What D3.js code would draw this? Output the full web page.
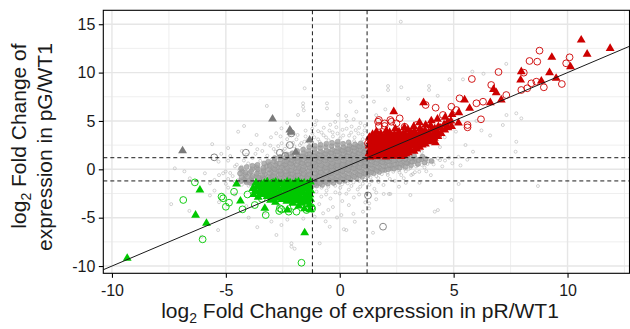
<!DOCTYPE html>
<html><head><meta charset="utf-8">
<script src="https://cdn.jsdelivr.net/npm/d3@7"></script>
<style>
body{margin:0;background:#fff}
svg{display:block}
text{font-family:"Liberation Sans",Arial,Helvetica,sans-serif;fill:#1a1a1a}
</style>
</head><body>
<svg id="chart" width="630" height="329"></svg>
<script>
// Axis ticks and significance cutoffs (log2 fold change)
const xTicks = [-10, -5, 0, 5, 10];
const yTicks = [-10, -5, 0, 5, 10, 15];
const xMinor = [-7.5, -2.5, 2.5, 7.5, 12.5];
const yMinor = [-7.5, -2.5, 2.5, 7.5, 12.5];
const cutoff = 1.2;
const fitSlope = 1, fitIntercept = 0;

// Genes not significant in both comparisons: sparse outer scatter
const grayHalo = [
[-4.52,0.48],[-4.21,0.91],[-3.83,1.18],[-3.49,0.87],[-3.18,1.41],[-2.98,1.02],[-2.81,1.83],[-2.62,1.29],[-2.41,2.12],[-2.18,1.61],[-1.99,2.38],[-1.88,1.92],[-1.69,2.71],[-1.58,2.19],[-1.41,3.02],[-1.3,2.48],[-1.12,3.31],[-1.02,2.21],[-0.88,2.82],[-0.71,3.52],[-0.61,2.49],[-0.49,3.01],[-0.31,3.82],[-0.18,2.62],[0.02,3.21],[0.12,4.08],[0.19,2.71],[0.41,3.49],[0.52,4.42],[0.63,2.91],[0.82,3.71],[0.91,4.79],[1.01,3.12],[1.09,4.02],[-1.21,4.19],[-0.42,4.61],[0.31,5.02],[-2.31,3.12],[-3.62,2.08],[-4.81,1.38],[-5.32,0.79],[-5.01,-0.22],
[-3.05,2.45],[-2.55,2.7],[-1.85,3.55],[-0.95,3.95],[-0.15,4.35],[0.7,4.05],[-1.55,2.85],[-0.35,2.3],[0.45,2.6],[-2.9,0.9],[-3.9,0.4],[-4.4,-0.1],[-4.7,-0.7],[-4.45,-1.1],
[-4.1,1.5],[-3.7,1.6],[-3.4,1.9],[-3.3,2.6],[-2.9,2.1],[-2.7,2.4],[-2.5,1.9],[-2.3,2.5],[-2.05,2.75],[-2.2,3.5],[-1.9,3.1],[-1.75,2.5],[-1.5,3.4],[-1.35,2.8],[-1.2,3.7],[-0.95,3.1],[-0.8,3.8],[-0.6,3.3],[-0.45,4.0],[-0.3,3.4],[-0.1,3.7],[0.15,3.5],[0.3,4.2],[0.5,3.8],[0.65,3.3],[0.85,4.3],[1.0,3.6],[1.1,4.5],[-0.2,4.9],[-0.7,4.3],[-1.5,4.0],[-2.6,3.4],[-3.9,2.6],[-4.3,1.9],[-5.2,1.6],[-4.6,0.3],[-4.9,0.9],
[-0.8,-1.9],[-0.5,-1.8],[-0.2,-1.7],[0.1,-1.55],[0.35,-1.45],[0.6,-1.35],[0.85,-1.2],[1.1,-1.05],[1.35,-0.85],[1.6,-0.7],[1.85,-0.5],[2.1,-0.35],[2.35,-0.25],[2.6,-0.1],[2.85,0.05],[3.1,0.15],[3.35,0.3],[3.6,0.45],[3.85,0.55],[4.1,0.8],[4.4,0.95],[0.4,-2.1],[0.9,-1.8],[1.3,-1.6],[1.7,-1.3],[2.2,-1.0],[2.7,-0.6],[3.3,-0.3],[3.8,-0.2],[4.5,0.3],[-0.6,-2.6],[0.0,-2.5],[1.6,-2.4],[2.9,-1.4],[4.0,-0.6],[5.3,0.4],[5.6,1.0],[4.8,1.2],
[-4.6,-1.3],[-4.9,-1.0],[-5.3,-0.6],[-5.5,-1.1],[-4.3,-1.6],[-4.0,-1.7],[-5.0,-1.5],
[-1.02,-2.31],[-0.81,-2.82],[-0.58,-2.19],[-0.41,-3.02],[-0.19,-2.38],[0.02,-1.91],[0.11,-3.28],[0.29,-2.52],[0.51,-1.72],[0.62,-2.91],[0.79,-2.08],[1.01,-1.49],[1.12,-3.42],[1.19,-2.48],[1.41,-1.21],[1.52,-2.02],[1.69,-0.91],[1.92,-1.62],[2.11,-0.58],[2.22,-2.55],[2.41,-1.19],[2.62,-0.31],[2.81,-0.92],[3.02,0.02],[3.1,-2.66],[3.21,-0.49],[3.49,-0.25],[3.41,0.42],[3.72,0.19],[3.91,0.82],[4.12,0.51],[4.31,1.12],[4.62,0.91],[4.94,0.62],[5.21,1.29],[5.85,1.82],[7.72,1.82],[5.22,-1.52],[4.9,-3.17],[4.17,-4.38],[4.31,-4.21],[3.14,-0.59],[8.7,-1.73],[1.93,-2.55],[2.16,-2.55],[1.46,-6.56],[1.29,-3.52],[1.29,-4.04],[0.66,-5.42],[0.18,-6.2],[1.02,-4.38],[-0.73,-4.55],[-0.44,-5.94],[-0.62,-5.38],[-0.12,-4.98],[0.07,-4.73],[0.29,-6.28],[-0.88,-7.65],[-2.12,-7.65],[-2.12,-8.0],[-1.98,-8.21],[-2.78,-6.79],[-2.56,-5.76],[-6.07,-6.97],[-5.34,-6.28],[-3.62,-5.98],
[-0.9,-3.6],[-0.3,-3.9],[0.4,-3.7],[0.85,-2.6],[1.6,-3.1],[2.6,-1.8],[3.5,-1.4],[2.9,-0.2],[-1.1,-4.9],[-0.5,-4.2],[0.6,-4.6],[-1.6,-5.1],[-2.3,-5.2],[-3.0,-5.4],[-4.0,-5.0],
[-6.58,-0.93],[-5.7,-1.45],[-5.92,-0.41],[-5.12,-0.41],[-4.81,-0.38],[-4.31,0.27],[-7.24,0.1],[-6.82,-0.21],[-4.02,0.61],[-3.71,0.38],[-5.5,-2.2],[-4.9,-1.9],[-4.6,-2.6],[-5.3,-3.4],[-4.1,-3.8],[-3.3,-4.5],[-2.7,-3.7],[-7.4,-3.6],[-6.6,-4.3],[-5.7,-2.7],
[-1.54,8.38],[-3.2,6.55],[-4.2,4.48],[-4.46,3.89],[-3.65,3.55],[-2.56,4.24],[-1.83,5.62],[-1.61,6.47],[-1.61,6.82],[-1.58,6.1],[-0.56,6.82],[-0.56,6.3],[-0.07,5.62],[0.47,6.99],[0.73,5.96],[0.28,5.52],[1.02,7.51],[-1.02,5.02],[-2.31,4.81],[-2.79,3.72],[-3.02,3.31],[-1.08,4.61],[0.61,5.18],[-5.6,2.6],[-4.9,2.2],
[2.68,15.26],[7.31,10.9],[2.12,8.61],[2.12,8.2],[2.7,8.48],[3.92,8.61],[3.92,8.2],[4.82,9.3],[5.41,9.3],[5.82,10.1],[6.31,9.88],[7.75,5.79],[7.97,5.27],[7.32,5.61],[7.16,4.58],[7.75,2.85],[6.22,4.02],[5.52,2.51],[4.61,3.31],[3.22,3.18],[2.0,6.2],[1.6,5.6],[1.5,7.0],[3.0,7.3],[4.3,7.6],[6.0,5.0],[6.6,3.5],[5.1,3.9],[4.4,2.3],[3.6,1.8]
];

// Genes not significant: dense central cloud
const grayCore = [
[-4.22,-1.02],[-4.15,-0.58],[-4.28,-0.21],[-4.1,-1.33],
[-3.93,-1.41],[-3.86,-0.88],[-3.97,-0.39],[-3.84,0.02],[-3.9,-1.12],
[-3.62,-1.52],[-3.55,-1.08],[-3.66,-0.71],[-3.58,-0.27],[-3.64,0.18],[-3.52,-0.9],
[-3.31,-1.63],[-3.26,-1.19],[-3.37,-0.82],[-3.28,-0.48],[-3.34,-0.09],[-3.22,0.31],[-3.3,-1.0],
[-3.04,-1.72],[-2.97,-1.28],[-3.08,-0.97],[-2.95,-0.62],[-3.02,-0.18],[-2.93,0.12],[-3.06,0.52],[-2.99,-0.79],
[-2.77,-1.61],[-2.71,-1.27],[-2.8,-0.93],[-2.69,-0.52],[-2.76,-0.17],[-2.72,0.21],[-2.78,0.63],[-2.7,-1.08],
[-2.52,-1.74],[-2.47,-1.38],[-2.55,-1.02],[-2.44,-0.69],[-2.53,-0.31],[-2.46,0.03],[-2.51,0.42],[-2.43,0.81],[-2.56,-0.49],
[-2.28,-1.79],[-2.21,-1.43],[-2.3,-1.08],[-2.19,-0.77],[-2.26,-0.41],[-2.23,-0.08],[-2.31,0.29],[-2.2,0.68],[-2.27,1.02],[-2.24,-0.6],
[-2.03,-1.72],[-1.96,-1.31],[-2.06,-0.98],[-1.97,-0.62],[-2.01,-0.28],[-1.94,0.09],[-2.05,0.43],[-1.98,0.79],[-2.02,1.12],[-1.95,-0.81],
[-1.78,-1.83],[-1.72,-1.48],[-1.8,-1.12],[-1.71,-0.78],[-1.77,-0.41],[-1.74,0.02],[-1.79,0.32],[-1.7,0.71],[-1.76,1.03],[-1.73,1.31],[-1.69,-0.22],
[-1.52,-1.71],[-1.47,-1.29],[-1.55,-0.97],[-1.46,-0.61],[-1.53,-0.27],[-1.49,0.12],[-1.54,0.48],[-1.45,0.83],[-1.51,1.19],[-1.48,1.52],[-1.44,-0.79],
[-1.27,-1.82],[-1.21,-1.38],[-1.3,-1.07],[-1.22,-0.71],[-1.28,-0.32],[-1.24,0.01],[-1.29,0.39],[-1.2,0.72],[-1.26,1.08],[-1.23,1.42],[-1.19,0.21],
[-1.02,-1.68],[-0.97,-1.39],[-1.05,-0.98],[-0.96,-0.61],[-1.03,-0.19],[-0.99,0.18],[-1.04,0.52],[-0.95,0.87],[-1.01,1.23],[-0.98,1.58],[-0.94,-0.42],
[-0.77,-1.62],[-0.71,-1.21],[-0.79,-0.88],[-0.72,-0.52],[-0.78,-0.11],[-0.74,0.28],[-0.8,0.61],[-0.7,0.98],[-0.76,1.31],[-0.73,1.69],[-0.69,0.02],
[-0.52,-1.49],[-0.47,-1.08],[-0.55,-0.72],[-0.46,-0.38],[-0.53,0.03],[-0.49,0.41],[-0.54,0.72],[-0.45,1.08],[-0.51,1.42],[-0.48,1.81],[-0.44,0.19],
[-0.27,-1.41],[-0.21,-0.98],[-0.3,-0.62],[-0.22,-0.19],[-0.28,0.12],[-0.24,0.49],[-0.29,0.82],[-0.2,1.18],[-0.26,1.52],[-0.23,1.88],[-0.19,0.31],
[-0.02,-1.28],[0.04,-0.91],[-0.05,-0.48],[0.03,-0.12],[-0.03,0.27],[0.01,0.62],[-0.04,0.98],[0.05,1.31],[-0.01,1.69],[0.02,2.02],[0.06,0.42],
[0.23,-1.18],[0.28,-0.79],[0.2,-0.41],[0.27,0.02],[0.22,0.38],[0.26,0.71],[0.21,1.09],[0.3,1.42],[0.24,1.78],[0.27,2.11],[0.31,0.52],
[0.48,-1.02],[0.53,-0.61],[0.45,-0.22],[0.52,0.18],[0.47,0.52],[0.51,0.88],[0.46,1.21],[0.55,1.58],[0.49,1.91],[0.52,2.28],[0.56,0.69],
[0.73,-0.88],[0.78,-0.52],[0.7,-0.09],[0.77,0.29],[0.72,0.68],[0.76,1.02],[0.71,1.38],[0.8,1.72],[0.74,2.08],[0.77,2.41],[0.81,0.88],
[0.98,-0.79],[1.03,-0.38],[0.95,0.02],[1.02,0.41],[0.97,0.78],[1.01,1.12],[0.96,1.49],[1.05,1.82],[0.99,2.18],[1.02,2.52],[1.06,0.61],
[1.23,-0.62],[1.28,-0.19],[1.2,0.18],[1.27,0.52],[1.22,0.88],[1.26,1.19],[1.21,1.62],[1.3,1.98],[1.24,2.31],
[1.48,-0.41],[1.53,0.02],[1.45,0.32],[1.52,0.71],[1.47,1.02],[1.51,1.29],[1.46,1.72],[1.55,2.08],
[1.73,-0.28],[1.78,0.12],[1.7,0.49],[1.77,0.82],[1.72,1.11],[1.76,1.48],[1.71,1.89],
[1.98,-0.08],[2.03,0.31],[1.95,0.62],[2.02,0.91],[1.97,1.22],[2.01,1.58],
[2.23,0.12],[2.28,0.41],[2.2,0.79],[2.27,1.08],[2.22,1.41],
[2.48,0.22],[2.53,0.61],[2.45,0.92],[2.52,1.19],[2.47,1.52],
[2.73,0.41],[2.78,0.79],[2.7,1.12],[2.77,1.39],
[2.98,0.62],[3.03,0.91],[2.95,1.28],
[3.28,0.82],[3.32,1.09],[3.26,1.42],
[3.58,1.01],[3.63,1.32],
[-4.35,-1.21],[-4.31,-0.79],[-4.38,-0.42],[-4.33,0.08],
[-4.12,-1.18],[-4.07,-0.76],[-4.14,-0.31],[-4.09,0.24],
[-3.87,-1.26],[-3.82,-0.69],[-3.89,-0.21],[-3.83,0.36],
[-3.62,-1.31],[-3.58,-0.86],[-3.64,-0.44],[-3.59,0.01],[-3.61,0.46],
[-3.37,-1.39],[-3.33,-1.01],[-3.39,-0.58],[-3.34,-0.21],[-3.36,0.16],[-3.32,0.61],
[-3.12,-1.46],[-3.08,-1.09],[-3.13,-0.76],[-3.09,-0.39],[-3.11,0.01],[-3.07,0.36],[-3.14,0.79],
[-2.87,-1.44],[-2.83,-1.11],[-2.88,-0.69],[-2.84,-0.36],[-2.86,0.02],[-2.82,0.41],[-2.89,0.84],[-2.85,1.16],
[-2.62,-1.51],[-2.58,-1.19],[-2.63,-0.86],[-2.59,-0.49],[-2.61,-0.14],[-2.57,0.21],[-2.64,0.59],[-2.6,1.01],[-2.62,1.29],
[-2.37,-1.56],[-2.33,-1.24],[-2.38,-0.91],[-2.34,-0.54],[-2.36,-0.21],[-2.32,0.16],[-2.39,0.51],[-2.35,0.84],[-2.37,1.26],[-2.33,1.54],
[-2.12,-1.49],[-2.08,-1.16],[-2.13,-0.79],[-2.09,-0.46],[-2.11,-0.09],[-2.07,0.26],[-2.14,0.59],[-2.1,0.96],[-2.12,1.29],[-2.08,1.66],
[-1.87,-1.61],[-1.83,-1.29],[-1.88,-0.96],[-1.84,-0.59],[-1.86,-0.21],[-1.82,0.16],[-1.89,0.49],[-1.85,0.86],[-1.87,1.19],[-1.83,1.56],[-1.86,1.89],
[-1.62,-1.49],[-1.58,-1.16],[-1.63,-0.79],[-1.59,-0.46],[-1.61,-0.04],[-1.57,0.31],[-1.64,0.64],[-1.6,1.01],[-1.62,1.34],[-1.58,1.71],[-1.61,2.04],
[-1.37,-1.56],[-1.33,-1.24],[-1.38,-0.89],[-1.34,-0.51],[-1.36,-0.14],[-1.32,0.21],[-1.39,0.54],[-1.35,0.91],[-1.37,1.24],[-1.33,1.61],[-1.36,1.94],[-1.34,2.31],
[-1.12,-1.54],[-1.08,-1.21],[-1.13,-0.79],[-1.09,-0.41],[-1.11,0.01],[-1.07,0.36],[-1.14,0.69],[-1.1,1.06],[-1.12,1.39],[-1.08,1.76],[-1.11,2.09],[-1.09,2.44],
[-0.87,-1.44],[-0.83,-1.06],[-0.88,-0.69],[-0.84,-0.31],[-0.86,0.11],[-0.82,0.44],[-0.89,0.81],[-0.85,1.14],[-0.87,1.51],[-0.83,1.84],[-0.86,2.21],[-0.84,2.54],
[-0.62,-1.31],[-0.58,-0.89],[-0.63,-0.56],[-0.59,-0.19],[-0.61,0.21],[-0.57,0.54],[-0.64,0.91],[-0.6,1.24],[-0.62,1.61],[-0.58,1.94],[-0.61,2.31],[-0.59,2.64],
[-0.37,-1.19],[-0.33,-0.81],[-0.38,-0.39],[-0.34,-0.06],[-0.36,0.31],[-0.32,0.64],[-0.39,1.01],[-0.35,1.34],[-0.37,1.71],[-0.33,2.04],[-0.36,2.41],[-0.34,2.74],
[-0.12,-1.11],[-0.08,-0.69],[-0.13,-0.31],[-0.09,0.11],[-0.11,0.44],[-0.07,0.81],[-0.14,1.14],[-0.1,1.51],[-0.12,1.84],[-0.08,2.21],[-0.11,2.54],[-0.09,2.86],
[0.13,-0.99],[0.17,-0.61],[0.12,-0.19],[0.16,0.21],[0.14,0.54],[0.18,0.91],[0.11,1.24],[0.15,1.61],[0.13,1.94],[0.17,2.31],[0.14,2.64],
[0.38,-0.86],[0.42,-0.44],[0.37,-0.06],[0.41,0.36],[0.39,0.69],[0.43,1.06],[0.36,1.39],[0.4,1.76],[0.38,2.09],[0.42,2.46],[0.39,2.79],
[0.63,-0.76],[0.67,-0.29],[0.62,0.11],[0.66,0.49],[0.64,0.86],[0.68,1.19],[0.61,1.56],[0.65,1.89],[0.63,2.26],[0.67,2.59],
[0.88,-0.61],[0.92,-0.19],[0.87,0.21],[0.91,0.59],[0.89,0.96],[0.93,1.29],[0.86,1.66],[0.9,1.99],[0.88,2.36],[0.92,2.69],
[1.13,-0.46],[1.17,-0.04],[1.12,0.36],[1.16,0.69],[1.14,1.06],[1.18,1.39],[1.11,1.81],[1.15,2.14],
[1.38,-0.31],[1.42,0.11],[1.37,0.49],[1.41,0.86],[1.39,1.14],
[1.63,-0.16],[1.67,0.26],[1.62,0.64],[1.66,1.01],
[1.88,-0.06],[1.92,0.36],[1.87,0.74],[1.91,1.11],
[2.13,0.01],[2.17,0.46],[2.12,0.84],[2.16,1.14],
[2.38,0.06],[2.42,0.49],[2.37,0.91],
[2.63,0.16],[2.67,0.61],[2.62,0.99],
[2.88,0.26],[2.92,0.69],[2.87,1.06],
[3.13,0.41],[3.17,0.79],[3.12,1.16],
[3.43,0.56],[3.47,0.94],
[3.73,0.71],[3.77,1.09],
[4.02,0.86]
];

// Significant in one comparison only (gray markers)
const grayTri = [[-2.95,5.2],[-2.19,4.06],[-2.14,3.83],[-1.32,3.03],[-1.93,1.76],[-6.9,1.92]];
const grayCirc = [[-5.51,1.24],[-4.12,1.72],[-2.19,2.51],[-2.12,3.72],[-2.63,1.72],[-2.4,1.38],[1.24,-2.7],[1.9,-5.93]];

// Up-regulated in both (red)
const redTri = [
[1.31,1.29],[1.28,1.62],[1.34,2.02],[1.29,2.41],[1.33,2.88],[1.3,3.31],
[1.46,1.41],[1.43,1.82],[1.49,2.19],[1.45,2.62],[1.48,3.08],[1.44,3.61],
[1.62,1.31],[1.58,1.72],[1.64,2.09],[1.6,2.52],[1.63,2.91],[1.59,3.42],[1.61,3.88],
[1.81,1.42],[1.78,1.81],[1.83,2.28],[1.79,2.71],[1.82,3.19],[1.8,3.69],
[2.02,1.28],[1.98,1.63],[2.03,2.01],[1.99,2.52],[2.02,2.88],[2.0,3.42],[2.04,3.98],
[2.21,1.52],[2.18,1.88],[2.23,2.31],[2.2,2.79],[2.22,3.28],[2.19,3.82],
[2.41,1.39],[2.38,1.79],[2.43,2.22],[2.39,2.68],[2.42,3.12],[2.4,3.61],[2.44,4.19],
[2.61,1.58],[2.58,2.02],[2.63,2.48],[2.59,2.91],[2.62,3.39],[2.6,3.88],
[2.81,1.49],[2.78,1.91],[2.83,2.31],[2.79,2.79],[2.82,3.28],[2.8,3.71],[2.84,4.31],
[3.01,1.72],[2.98,2.19],[3.03,2.62],[2.99,3.09],[3.02,3.52],[3.0,4.08],
[3.26,1.88],[3.23,2.41],[3.28,2.89],[3.24,3.31],[3.27,3.92],[3.25,4.41],
[3.51,2.29],[3.48,2.79],[3.53,3.19],[3.49,3.71],[3.52,4.21],[3.5,4.82],
[3.76,2.62],[3.73,3.09],[3.78,3.61],[3.74,4.02],[3.77,4.58],
[4.01,2.98],[3.98,3.52],[4.03,4.09],[3.99,4.51],[4.02,5.02],
[4.31,3.39],[4.28,3.91],[4.33,4.42],[4.29,5.18],
[4.61,4.08],[4.58,4.62],[4.63,5.38],
[4.91,4.42],[4.88,5.01],[4.93,5.68],
[5.21,4.79],[5.23,5.85],
[1.38,1.46],[1.36,1.84],[1.4,2.26],[1.37,2.69],[1.39,3.11],
[1.55,1.56],[1.53,1.99],[1.57,2.36],[1.54,2.81],[1.56,3.24],
[1.72,1.51],[1.7,1.94],[1.74,2.36],[1.71,2.79],[1.73,3.31],
[1.9,1.49],[1.88,1.96],[1.92,2.41],[1.89,2.74],[1.91,3.29],
[2.1,1.44],[2.08,1.81],[2.12,2.19],[2.09,2.66],[2.11,3.09],[2.1,3.61],
[2.3,1.36],[2.28,1.69],[2.32,2.11],[2.29,2.49],[2.31,2.96],[2.3,3.44],
[2.5,1.61],[2.48,1.94],[2.52,2.41],[2.49,2.84],[2.51,3.31],
[2.7,1.34],[2.68,1.76],[2.72,2.19],[2.69,2.71],[2.71,3.14],
[2.9,1.61],[2.88,2.04],[2.92,2.51],[2.89,2.94],[2.91,3.46],
[3.12,1.96],[3.1,2.44],[3.14,2.86],[3.11,3.29],[3.13,3.76],
[3.38,2.11],[3.36,2.59],[3.4,3.11],[3.37,3.54],
[3.62,2.51],[3.6,2.94],[3.64,3.41],[3.61,3.86],
[3.88,2.86],[3.86,3.29],[3.9,3.81],
[4.15,3.21],[4.13,3.69],[4.17,4.21],
[4.45,3.71],[4.43,4.26],
[4.75,4.31],[4.73,4.86],
[4.2,2.75],[2.37,5.96],[3.68,6.89],[5.7,6.31],[5.48,7.17],[6.61,6.89],[7.09,7.17],[6.87,7.92],[6.75,8.27],[8.85,9.13],[9.5,9.41],[7.94,9.23],[7.97,10.1],[9.21,9.99],[10.13,10.6],[9.31,11.58],[10.86,11.9],[11.87,12.5],[10.6,13.37]
];
const redCirc = [
[8.77,12.27],[8.33,11.2],[8.67,11.13],[10.09,11.58],[9.94,10.96],[6.97,10.06],[5.8,9.34],[8.08,9.99],[8.41,8.89],[8.63,9.06],[8.96,8.48],[9.75,8.82],[7.97,8.2],[8.23,8.38],[6.65,8.72],[7.31,7.68],[6.29,6.99],[6.0,6.83],[5.26,7.34],[4.9,6.47],[3.77,6.65],[4.21,6.37],[6.2,5.17],[5.61,4.58],[5.61,4.34],[4.33,3.55],[1.72,5.1],[2.22,5.1],[2.63,5.27],[2.85,4.4],[1.72,4.48],[1.97,4.48],[3.36,4.58],[4.53,5.62],[5.12,6.13],[1.24,2.69],[1.68,4.92],[1.97,4.75],[2.27,4.92],[2.49,4.75]
];

// Down-regulated in both (green)
const greenTri = [
[-1.29,-1.31],[-1.33,-1.72],[-1.27,-2.21],[-1.31,-2.62],[-1.28,-3.09],[-1.32,-3.62],[-1.3,-4.18],
[-1.56,-1.42],[-1.53,-1.88],[-1.58,-2.41],[-1.54,-2.92],[-1.57,-3.39],[-1.55,-4.08],
[-1.81,-1.29],[-1.78,-1.72],[-1.83,-2.19],[-1.79,-2.71],[-1.82,-3.22],[-1.8,-3.78],
[-2.06,-1.52],[-2.03,-1.98],[-2.08,-2.49],[-2.04,-3.02],[-2.07,-3.51],
[-2.31,-1.31],[-2.28,-1.79],[-2.33,-2.32],[-2.29,-2.81],[-2.32,-3.29],[-2.3,-4.21],
[-2.56,-1.49],[-2.53,-2.02],[-2.58,-2.59],[-2.54,-3.12],
[-2.81,-1.32],[-2.78,-1.81],[-2.83,-2.29],[-2.79,-2.88],[-2.82,-3.41],
[-3.06,-1.58],[-3.03,-2.09],[-3.08,-2.62],[-3.04,-3.19],
[-3.31,-1.42],[-3.28,-1.92],[-3.33,-2.49],[-3.29,-4.03],
[-3.56,-1.69],[-3.53,-2.31],[-3.58,-2.88],
[-3.81,-1.98],[-3.78,-2.61],
[-1.42,-1.51],[-1.44,-1.99],[-1.41,-2.46],[-1.43,-2.84],[-1.42,-3.31],
[-1.68,-1.49],[-1.7,-1.96],[-1.67,-2.44],[-1.69,-2.96],[-1.68,-3.49],
[-1.93,-1.36],[-1.95,-1.81],[-1.92,-2.29],[-1.94,-2.76],[-1.93,-3.24],
[-2.18,-1.41],[-2.2,-1.84],[-2.17,-2.26],[-2.19,-2.69],[-2.18,-3.16],
[-2.43,-1.49],[-2.45,-1.96],[-2.42,-2.39],[-2.44,-2.91],
[-2.68,-1.46],[-2.7,-1.94],[-2.67,-2.46],[-2.69,-2.99],
[-2.93,-1.51],[-2.95,-1.99],[-2.92,-2.51],[-2.94,-3.01],
[-3.18,-1.31],[-3.2,-1.76],[-3.17,-2.24],[-3.19,-2.81],
[-3.43,-1.56],[-3.45,-2.09],[-3.42,-2.61],
[-3.68,-1.41],[-3.7,-2.19],
[-3.65,-1.8],[-4.53,-1.52],[-4.36,-3.28],[-6.14,-2.14],[-6.33,-4.73],[-5.85,-5.58],[-1.54,-6.56],[-9.33,-9.2]
];
const greenCirc = [
[-6.36,-1.35],[-6.87,-3.17],[-6.02,-7.24],[-1.68,-9.66],[-5.12,-3.0],[-5.19,-2.83],[-5.0,-3.87],[-4.86,-3.45],[-4.64,-2.32],[-4.27,-4.14],[-3.73,-3.69],[-3.25,-4.73],[-2.66,-4.31],[-2.56,-4.14],[-2.24,-4.38],[-1.9,-4.38],[-1.46,-4.21],[-1.21,-4.07],[-2.02,-3.8],[-2.63,-4.03],[-1.24,-3.93],[-3.42,-3.05],[-2.92,-1.35],[-4.05,-2.6],[-1.5,-3.05]
];

const W = 630, H = 329;
const m = {top: 10.3, right: 0.5, bottom: 55.7, left: 103.3};
const svg = d3.select("#chart");

const x = d3.scaleLinear().domain([-10.38, 12.72]).range([m.left, W - m.right]);
const y = d3.scaleLinear().domain([-10.75, 16.44]).range([H - m.bottom, m.top]);

svg.append("defs").append("clipPath").attr("id", "panel")
  .append("rect").attr("x", m.left).attr("y", m.top)
  .attr("width", W - m.right - m.left).attr("height", H - m.bottom - m.top);

// Grid
const grid = svg.append("g");
grid.selectAll(".xminor").data(xMinor).join("line")
  .attr("x1", d => x(d)).attr("x2", d => x(d)).attr("y1", m.top).attr("y2", H - m.bottom)
  .attr("stroke", "#ebebeb").attr("stroke-width", 0.8);
grid.selectAll(".yminor").data(yMinor).join("line")
  .attr("y1", d => y(d)).attr("y2", d => y(d)).attr("x1", m.left).attr("x2", W - m.right)
  .attr("stroke", "#ebebeb").attr("stroke-width", 0.8);
grid.selectAll(".xmajor").data(xTicks).join("line")
  .attr("x1", d => x(d)).attr("x2", d => x(d)).attr("y1", m.top).attr("y2", H - m.bottom)
  .attr("stroke", "#e6e6e6").attr("stroke-width", 1.4);
grid.selectAll(".ymajor").data(yTicks).join("line")
  .attr("y1", d => y(d)).attr("y2", d => y(d)).attr("x1", m.left).attr("x2", W - m.right)
  .attr("stroke", "#e6e6e6").attr("stroke-width", 1.4);

const plot = svg.append("g").attr("clip-path", "url(#panel)");
const tri = d3.symbol().type(d3.symbolTriangle).size(34);

plot.append("g").selectAll("circle").data(grayHalo).join("circle")
  .attr("cx", d => x(d[0])).attr("cy", d => y(d[1])).attr("r", 1.5)
  .attr("fill", "none").attr("stroke", "#b5b5b5").attr("stroke-width", 0.6);

plot.append("g").selectAll("circle").data(grayCore).join("circle")
  .attr("cx", d => x(d[0])).attr("cy", d => y(d[1])).attr("r", 2.5)
  .attr("fill", "#a2a2a2").attr("fill-opacity", 0.8)
  .attr("stroke", "#939393").attr("stroke-width", 0.5);

plot.append("g").selectAll("circle").data(grayCirc).join("circle")
  .attr("cx", d => x(d[0])).attr("cy", d => y(d[1])).attr("r", 3.4)
  .attr("fill", "none").attr("stroke", "#7a7a7a").attr("stroke-width", 0.9);
plot.append("g").selectAll("path").data(grayTri).join("path")
  .attr("d", tri).attr("transform", d => `translate(${x(d[0])},${y(d[1])})`)
  .attr("fill", "#7a7a7a");

plot.append("g").selectAll("circle").data(greenCirc).join("circle")
  .attr("cx", d => x(d[0])).attr("cy", d => y(d[1])).attr("r", 3.4)
  .attr("fill", "none").attr("stroke", "#00c800").attr("stroke-width", 0.9);
plot.append("g").selectAll("path").data(greenTri).join("path")
  .attr("d", tri).attr("transform", d => `translate(${x(d[0])},${y(d[1])})`)
  .attr("fill", "#00c800");

plot.append("g").selectAll("circle").data(redCirc).join("circle")
  .attr("cx", d => x(d[0])).attr("cy", d => y(d[1])).attr("r", 3.4)
  .attr("fill", "none").attr("stroke", "#cd0000").attr("stroke-width", 0.9);
plot.append("g").selectAll("path").data(redTri).join("path")
  .attr("d", tri).attr("transform", d => `translate(${x(d[0])},${y(d[1])})`)
  .attr("fill", "#cd0000");

// Cutoff lines
const dash = "4,3";
plot.selectAll(".vcut").data([-cutoff, cutoff]).join("line")
  .attr("x1", d => x(d)).attr("x2", d => x(d)).attr("y1", m.top).attr("y2", H - m.bottom)
  .attr("stroke", "#000").attr("stroke-width", 0.9).attr("stroke-dasharray", dash);
plot.selectAll(".hcut").data([-cutoff, cutoff]).join("line")
  .attr("y1", d => y(d)).attr("y2", d => y(d)).attr("x1", m.left).attr("x2", W - m.right)
  .attr("stroke", "#000").attr("stroke-width", 0.9).attr("stroke-dasharray", dash);

// Fit line
const xd = x.domain();
plot.append("line")
  .attr("x1", x(xd[0])).attr("y1", y(fitIntercept + fitSlope * xd[0]))
  .attr("x2", x(xd[1])).attr("y2", y(fitIntercept + fitSlope * xd[1]))
  .attr("stroke", "#1a1a1a").attr("stroke-width", 1);

// Panel border
svg.append("rect").attr("x", m.left).attr("y", m.top)
  .attr("width", W - m.right - m.left).attr("height", H - m.bottom - m.top)
  .attr("fill", "none").attr("stroke", "#000").attr("stroke-width", 1.1);

// Axes
const fmt = d => String(d);
const gx = svg.append("g").attr("transform", `translate(0,${H - m.bottom})`)
  .call(d3.axisBottom(x).tickValues(xTicks).tickFormat(fmt).tickSize(4.5).tickPadding(6.5));
const gy = svg.append("g").attr("transform", `translate(${m.left},0)`)
  .call(d3.axisLeft(y).tickValues(yTicks).tickFormat(fmt).tickSize(4.5).tickPadding(3.5));
[gx, gy].forEach(g => {
  g.select(".domain").remove();
  g.selectAll(".tick line").attr("stroke", "#000").attr("stroke-width", 1.1);
  g.selectAll(".tick text").attr("font-size", 16).attr("font-family", "Liberation Sans, Arial, sans-serif").attr("fill", "#1a1a1a");
});

// Axis titles
const xt = svg.append("text").attr("x", 360).attr("y", 318).attr("text-anchor", "middle").attr("font-size", 21);
xt.append("tspan").text("log");
xt.append("tspan").attr("font-size", 14).attr("dy", 5).text("2");
xt.append("tspan").attr("dy", -5).text(" Fold Change of expression in pR/WT1");

const yt1 = svg.append("text").attr("transform", "translate(26,136) rotate(-90)").attr("text-anchor", "middle").attr("font-size", 21);
yt1.append("tspan").text("log");
yt1.append("tspan").attr("font-size", 14).attr("dy", 5).text("2");
yt1.append("tspan").attr("dy", -5).text(" Fold Change of");
svg.append("text").attr("transform", "translate(52,147) rotate(-90)").attr("text-anchor", "middle").attr("font-size", 21)
  .text("expression in pG/WT1");
</script>
</body></html>
